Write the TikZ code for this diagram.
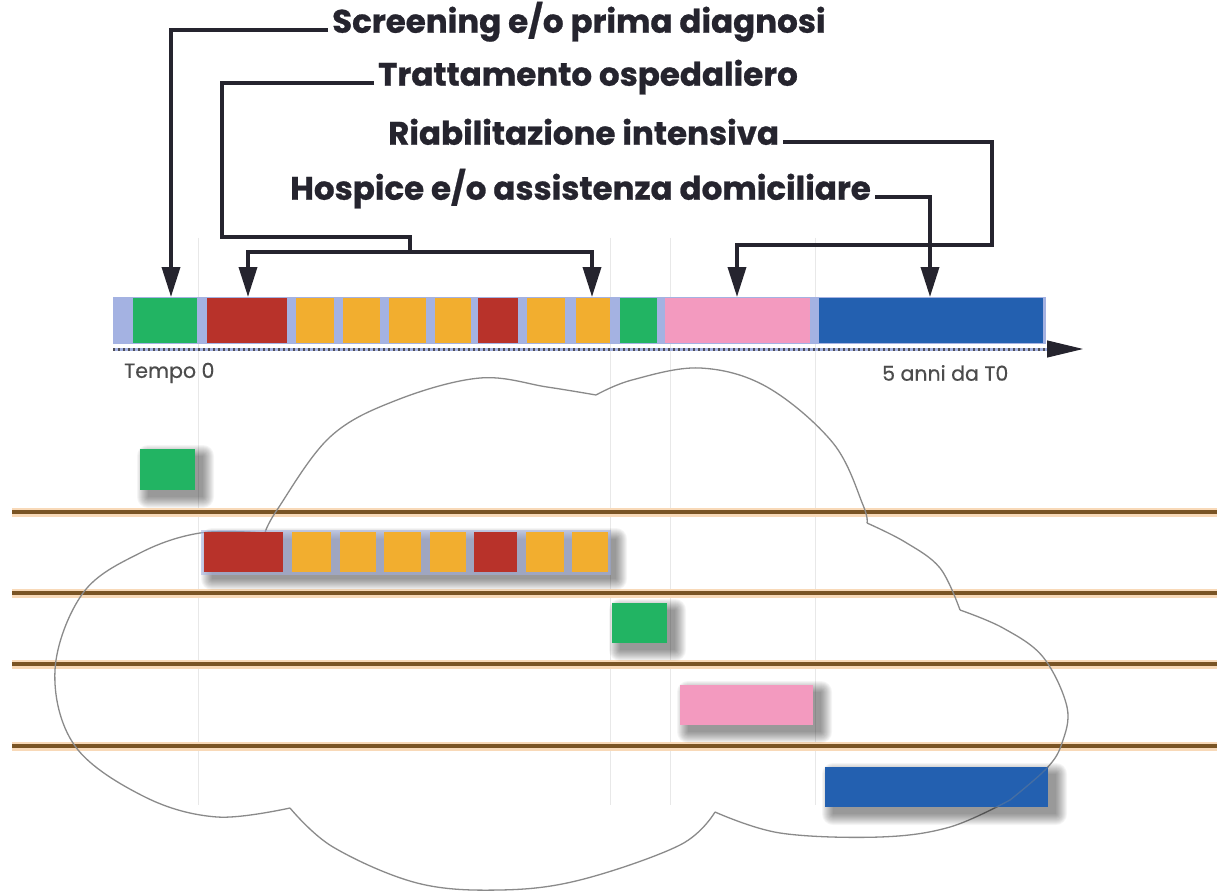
\documentclass[tikz,border=0pt]{standalone}
\usepackage{fontspec}
\setmainfont{Poppins}[BoldFeatures={FakeBold=0.8}]
\newfontfamily\axisfont{Poppins}[FakeBold=0.6]
\usetikzlibrary{arrows.meta}

\definecolor{cGreen}{HTML}{22B463}
\definecolor{cRed}{HTML}{B8322A}
\definecolor{cYellow}{HTML}{F2AE2F}
\definecolor{cPink}{HTML}{F39ABF}
\definecolor{cBlue}{HTML}{2360B0}
\definecolor{cLav}{HTML}{A4B2E2}
\definecolor{cBrown}{HTML}{7A5424}
\definecolor{cPeach}{HTML}{F8D9B8}
\definecolor{cInk}{HTML}{25242E}
\definecolor{cCloud}{HTML}{8A8A8A}

% coloured block as a named node: name, colour, x1, y1, x2, y2
\newcommand\tblock[6]{%
  \node[tblk, fill=#2, minimum width={#5-#3}, minimum height={#6-#4}]
    (#1) at ({(#3+#5)/2},{(#4+#6)/2}) {};}

% soft drop shadow below/right of a rectangle: x1, y1, x2, y2
\newcommand\softshadow[4]{%
  \foreach \s in {0,...,11}{%
    \fill[black, opacity=0.04, rounded corners=\s pt]
      ({#1+8-\s},{#2+7-\s}) rectangle ({#3+8+\s},{#4+7+\s});}}

\begin{document}
\begin{tikzpicture}[x=1pt, y=-1pt,
  tblk/.style={rectangle, draw=none, inner sep=0pt, outer sep=0pt},
  conn/.style={draw=cInk, line width=3.6pt, line join=miter},
  arr/.style={conn, -{Triangle[width=18pt, length=30pt]}},
  lbl/.style={font=\fontsize{32.5}{34}\selectfont\bfseries, text=cInk,
    inner xsep=4pt, inner ysep=0pt},
  axlbl/.style={font=\axisfont\fontsize{20.5}{22}\selectfont, text=black!70, inner sep=0pt},
  guide/.style={draw=black!9, line width=1pt},
  brownline/.style={draw=cBrown, line width=4.5pt},
  halo/.style={draw=cPeach, line width=9pt},
  cloudline/.style={draw=cCloud, line width=1.3pt}]

\useasboundingbox (0,0) rectangle (1217,893);
\fill[white] (0,0) rectangle (1217,893);

% faint vertical guides
\foreach \gx in {198,610,670,815}
  \draw[guide] (\gx,238) -- (\gx,805);

% horizontal brown rails
\foreach \ry in {512,593,664,746}{
  \draw[halo] (12,\ry) -- (1217,\ry);
  \draw[brownline] (12,\ry) -- (1217,\ry);}

% cloud outline, lobe by lobe
\draw[cloudline] plot[smooth, tension=0.6] coordinates
  {(265,533) (277,510) (330,437) (397,400) (480,378) (547,387) (596,395)};
\draw[cloudline] plot[smooth, tension=0.6] coordinates
  {(596,395) (632,380) (700,368) (767,387) (833,443) (863,505) (867,523)};
\draw[cloudline] plot[smooth, tension=0.6] coordinates
  {(867,523) (905,542) (940,568) (960,610)};
\draw[cloudline] plot[smooth, tension=0.6] coordinates
  {(960,610) (1003,628) (1043,657) (1067,707) (1062,743) (1047,768) (1010,800)};
\draw[cloudline] plot[smooth, tension=0.6] coordinates
  {(1010,800) (950,827) (880,837) (780,833) (715,812)};
\draw[cloudline] plot[smooth, tension=0.6] coordinates
  {(715,812) (680,845) (580,880) (500,890) (417,883) (333,847) (290,808)};
\draw[cloudline] plot[smooth, tension=0.6] coordinates
  {(290,808) (217,817) (145,797) (75,746) (55,670) (83,593) (140,553) (200,533) (265,533)};

% timeline bar
\node[tblk, fill=cLav, minimum width=933, minimum height=47] (bar) at (579.5,320.5) {};
\tblock{b1}{cGreen}{133}{298}{197}{343}
\tblock{b2}{cRed}{207}{298}{287}{343}
\tblock{b3}{cYellow}{296}{298}{334}{343}
\tblock{b4}{cYellow}{343}{298}{380}{343}
\tblock{b5}{cYellow}{389}{298}{426}{343}
\tblock{b6}{cYellow}{435}{298}{471}{343}
\tblock{b7}{cRed}{478}{298}{518}{343}
\tblock{b8}{cYellow}{527}{298}{565}{343}
\tblock{b9}{cYellow}{576}{298}{610}{343}
\tblock{b10}{cGreen}{620}{298}{657}{343}
\tblock{b11}{cPink}{665}{298}{810}{343}
\tblock{b12}{cBlue}{819}{298}{1043}{343}

% time axis
\coordinate (ax0) at (113,349);
\coordinate (ax1) at (1047,349);
\coordinate (axend) at (1083,349);
\draw[cLav, line width=3pt] (ax0) -- (ax1);
\draw[cInk!80, line width=3pt, dash pattern=on 1.5pt off 3.5pt] (ax0) -- (ax1);
\draw[cInk, line width=1pt, -{Triangle[width=17pt, length=36pt]}] (ax1) -- (axend);
\node[axlbl, anchor=west] (t0) at (124,373) {Tempo 0};
\node[axlbl, anchor=west] (t5) at (882,373) {5 anni da T0};

% phase labels and their pointers
\node[lbl, anchor=mid west] (scr) at (328,30) {Screening e/o prima diagnosi};
\node[lbl, anchor=mid west] (trt) at (374,83) {Trattamento ospedaliero};
\node[lbl, anchor=mid west] (ria) at (384,142) {Riabilitazione intensiva};
\node[lbl, anchor=mid west] (hos) at (286,197) {Hospice e/o assistenza domiciliare};

\coordinate (tS) at (171,297);
\coordinate (kT) at (222,237);
\coordinate (jT) at (410,252);
\coordinate (tT1) at (248,297);
\coordinate (tT2) at (592,297);
\coordinate (kR) at (992,245);
\coordinate (tR) at (737,297);
\coordinate (tH) at (930,297);

\draw[arr] (scr.mid west) -| (tS);
\draw[conn] (trt.mid west) -| (kT) -| (jT);
\draw[arr] (jT) -| (tT1);
\draw[arr] (jT) -| (tT2);
\draw[arr] (ria.mid east) -| (kR) -| (tR);
\draw[arr] (hos.mid east) -| (tH);

% lower rows: the same phases laid out one per lane
\softshadow{140}{449}{195}{490}
\tblock{l1}{cGreen}{140}{449}{195}{490}

\softshadow{204}{532}{608}{572}
\fill[cLav, opacity=0.55] (201,530) rectangle (611,575);
\tblock{l2}{cRed}{204}{532}{283}{572}
\tblock{l3}{cYellow}{292}{532}{331}{572}
\tblock{l4}{cYellow}{340}{532}{376}{572}
\tblock{l5}{cYellow}{384}{532}{421}{572}
\tblock{l6}{cYellow}{430}{532}{466}{572}
\tblock{l7}{cRed}{474}{532}{517}{572}
\tblock{l8}{cYellow}{526}{532}{564}{572}
\tblock{l9}{cYellow}{572}{532}{608}{572}

\softshadow{612}{603}{667}{643}
\tblock{l10}{cGreen}{612}{603}{667}{643}

\softshadow{680}{685}{813}{725}
\tblock{l11}{cPink}{680}{685}{813}{725}

\softshadow{825}{767}{1048}{807}
\tblock{l12}{cBlue}{825}{767}{1048}{807}

% cloud edge faintly visible across the blue block
\begin{scope}
  \clip (l12.north west) rectangle (l12.south east);
  \draw[cloudline, opacity=0.35] plot[smooth, tension=0.6] coordinates
    {(960,610) (1003,628) (1043,657) (1067,707) (1062,743) (1047,768) (1010,800)};
  \draw[cloudline, opacity=0.35] plot[smooth, tension=0.6] coordinates
    {(1010,800) (950,827) (880,837) (780,833) (715,812)};
\end{scope}

\end{tikzpicture}
\end{document}
